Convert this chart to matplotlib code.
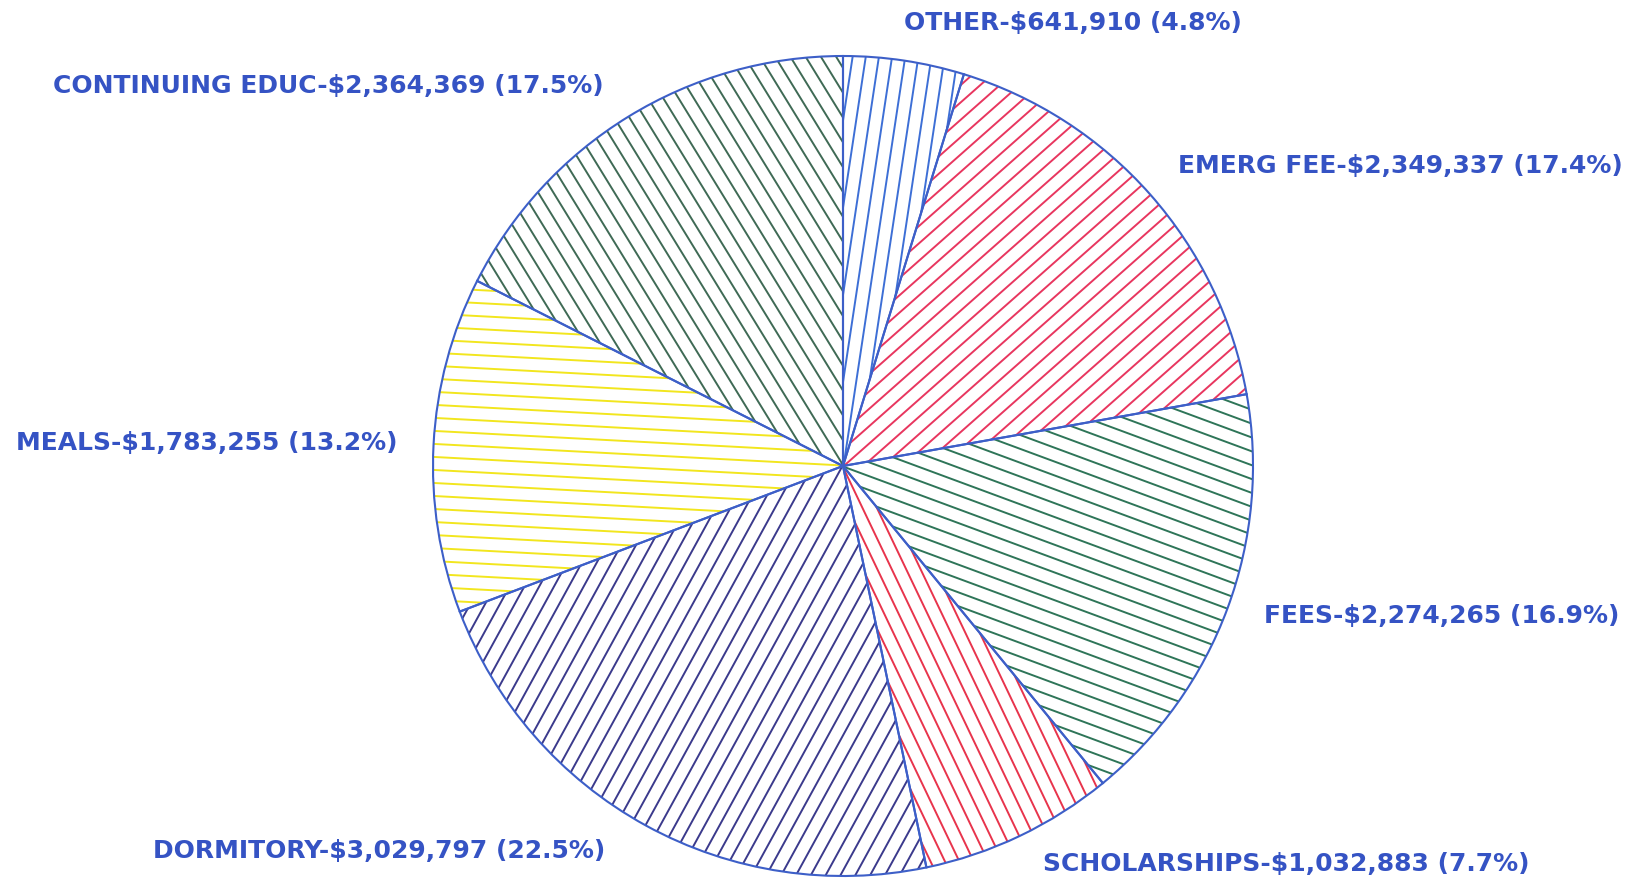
import numpy as np
import matplotlib
matplotlib.use("Agg")
import matplotlib.pyplot as plt
from matplotlib.collections import LineCollection

# Data

names = ["OTHER", "EMERG FEE", "FEES", "SCHOLARSHIPS", "DORMITORY", "MEALS", "CONTINUING EDUC"]
amounts = [641910, 2349337, 2274265, 1032883, 3029797, 1783255, 2364369]

# Styling

hatch_colors = ["#3d6fd6", "#e8365f", "#2e7558", "#e8344c", "#3b3a8c", "#f2e61e", "#3f6a55"]
edge_color = "#3d5fc8"
text_color = "#3553c4"

# label anchor points in pixels (x, y from top), and alignment
label_pos = [(1073, 23, "center"), (1178, 166, "left"), (1264, 616, "left"),
             (1043, 864, "left"), (153, 851, "left"), (16, 443, "left"), (53, 86, "left")]

W, H = 1652, 880
cx, cy, r = 843, H - 466, 410

fig = plt.figure(figsize=(W / 100, H / 100), dpi=100)
ax = fig.add_axes([0, 0, 1, 1])

wedges, _ = ax.pie(
    amounts,
    center=(cx, cy),
    radius=r,
    startangle=90,
    counterclock=False,
    wedgeprops=dict(facecolor="none", edgecolor=edge_color, linewidth=1.5),
)

ax.set_xlim(0, W)
ax.set_ylim(0, H)
ax.set_aspect("equal")
ax.axis("off")

# Hatch each slice with lines parallel to its bisector

spacing = 13
for w, col in zip(wedges, hatch_colors):
    mid = np.deg2rad((w.theta1 + w.theta2) / 2)
    d = np.array([np.cos(mid), np.sin(mid)])
    n = np.array([-d[1], d[0]])
    segs = []
    for k in np.arange(-r - spacing, r + spacing, spacing):
        p = np.array([cx, cy]) + n * (k + spacing / 2)
        segs.append([p - d * (r + 20), p + d * (r + 20)])
    lc = LineCollection(segs, colors=col, linewidths=1.4, zorder=1)
    lc.set_clip_path(w)
    ax.add_collection(lc)
    w.set_zorder(2)

# Labels

total = sum(amounts)
for name, val, (x, y, ha) in zip(names, amounts, label_pos):
    pct = val / total * 100
    ax.text(x, H - y, f"{name}-${val:,} ({pct:.1f}%)", ha=ha, va="center",
            color=text_color, fontsize=18, fontweight="bold",
            family="DejaVu Sans")

plt.savefig("out.png", dpi=100)
